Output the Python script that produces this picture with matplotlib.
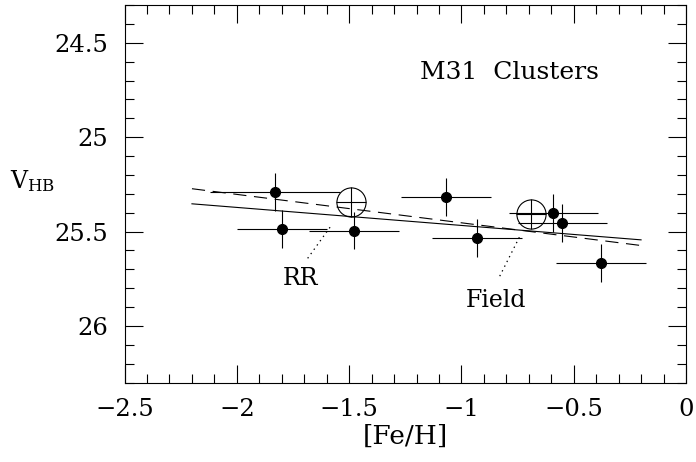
import matplotlib
matplotlib.use("Agg")
import matplotlib.pyplot as plt
import numpy as np

plt.rcParams['font.family'] = ['DejaVu Serif']
plt.rcParams['mathtext.fontset'] = 'dejavuserif'
plt.rcParams['lines.scale_dashes'] = False

# Filled points: clusters
feh = [-1.83, -1.80, -1.48, -1.07, -0.93, -0.59, -0.55, -0.38]
vhb = [25.29, 25.485, 25.495, 25.315, 25.535, 25.40, 25.455, 25.665]
feh_err = [0.29, 0.20, 0.20, 0.20, 0.20, 0.20, 0.20, 0.20]
vhb_err = [0.10, 0.10, 0.10, 0.10, 0.10, 0.10, 0.10, 0.10]

# Open symbols (crossed circles)
feh_open = [-1.49, -0.69]
vhb_open = [25.345, 25.405]

# Fit lines (endpoints)
rr_x = [-2.2, -0.2]
rr_y = [25.353, 25.544]
field_x = [-2.2, -0.2]
field_y = [25.273, 25.574]

# dotted pointer lines
rr_ptr_x = [-1.585, -1.692]
rr_ptr_y = [25.477, 25.654]
field_ptr_x = [-0.742, -0.836]
field_ptr_y = [25.530, 25.752]

fig = plt.figure(figsize=(6.96, 4.62), dpi=100)
ax = fig.add_axes([0.179, 0.172, 0.9856 - 0.179, 0.989 - 0.172])

lw = 0.8
ax.plot(rr_x, rr_y, color='black', lw=lw)
ax.plot(field_x, field_y, color='black', lw=lw, dashes=(9.5, 5.5))
ax.plot(rr_ptr_x, rr_ptr_y, color='black', lw=0.9, dashes=(1.0, 2.8))
ax.plot(field_ptr_x, field_ptr_y, color='black', lw=0.9, dashes=(1.0, 2.8))

ax.errorbar(feh, vhb, xerr=feh_err, yerr=vhb_err, fmt='o', color='black',
            ms=7, elinewidth=lw, capsize=0)
ax.plot(feh_open, vhb_open, 'o', mfc='none', mec='black', ms=21, mew=lw)
ax.plot(feh_open, vhb_open, '+', color='black', ms=21, mew=lw)

ax.text(-1.718, 25.75, 'RR', ha='center', va='center', fontsize=17)
ax.text(-0.847, 25.863, 'Field', ha='center', va='center', fontsize=17)
ax.text(-0.784, 24.656, 'M31  Clusters', ha='center', va='center', fontsize=18)

ax.set_xlim(-2.5, 0)
ax.set_ylim(26.3, 24.3)
ax.set_xticks([-2.5, -2, -1.5, -1, -0.5, 0])
ax.set_xticklabels(['\u22122.5', '\u22122', '\u22121.5', '\u22121', '\u22120.5', '0'])
ax.set_xticks(np.arange(-2.5, 0.001, 0.1), minor=True)
ax.set_yticks([24.5, 25, 25.5, 26])
ax.set_yticklabels(['24.5', '25', '25.5', '26'])
ax.set_yticks(np.arange(24.3, 26.301, 0.1), minor=True)

ax.tick_params(which='both', direction='in', top=True, right=True, width=lw,
               labelsize=17.5)
ax.tick_params(which='major', length=13, pad=11)
ax.tick_params(which='minor', length=6.5)
ax.tick_params(axis='y', which='major', pad=12)
for s in ax.spines.values():
    s.set_linewidth(lw)

ax.set_xlabel('[Fe/H]', fontsize=19, labelpad=2)
ax.set_ylabel(r'V$_{\mathrm{HB}}$', fontsize=17, rotation=0)
ax.yaxis.set_label_coords(-0.163, 0.5)

fig.savefig('out.png', dpi=100)
